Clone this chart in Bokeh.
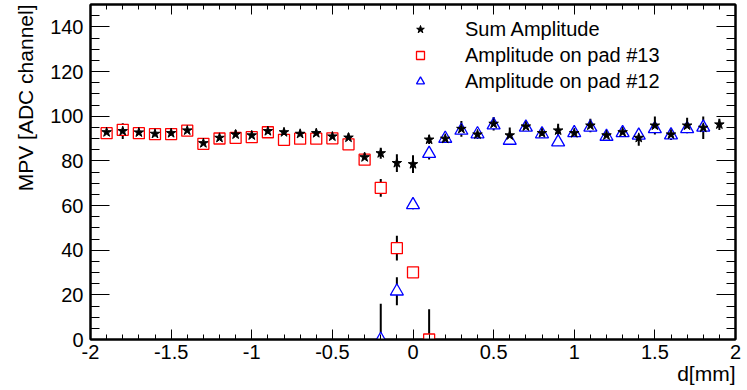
from bokeh.plotting import figure
from bokeh.models import (ColumnDataSource, LinearAxis, Range1d, SingleIntervalTicker,
                          Legend, LegendItem, Title, CustomJSTickFormatter)
from bokeh.embed import file_html
from bokeh.resources import INLINE

FONT = "Liberation Sans"

# ---- data ----
sum_x = [-1.9, -1.8, -1.7, -1.6, -1.5, -1.4, -1.3, -1.2, -1.1, -1.0,
         -0.9, -0.8, -0.7, -0.6, -0.5, -0.4, -0.3, -0.2, -0.1, 0.0,
         0.1, 0.2, 0.3, 0.4, 0.5, 0.6, 0.7, 0.8, 0.9, 1.0,
         1.1, 1.2, 1.3, 1.4, 1.5, 1.6, 1.7, 1.8, 1.9]
sum_y = [92.8, 93.3, 92.7, 92.1, 92.4, 93.6, 87.9, 90.3, 91.8, 91.4,
         93.3, 92.8, 92.1, 92.4, 90.9, 90.4, 81.6, 83.4, 79.0, 78.5,
         89.5, 89.9, 94.3, 91.8, 96.6, 91.4, 95.4, 92.4, 93.6, 92.4,
         95.8, 91.4, 92.8, 90.3, 95.8, 91.8, 95.8, 94.8, 96.3]
sum_err = [1.5, 3.5, 2.0, 1.5, 1.5, 1.5, 2.0, 1.5, 2.0, 1.5,
           1.5, 1.5, 1.5, 1.5, 1.5, 2.0, 2.0, 2.5, 4.0, 4.0,
           2.0, 1.5, 3.5, 2.0, 3.0, 3.5, 2.0, 1.5, 3.0, 1.5,
           3.0, 2.0, 1.5, 3.5, 4.0, 2.5, 3.5, 5.0, 2.5]

pad13_x = [-1.9, -1.8, -1.7, -1.6, -1.5, -1.4, -1.3, -1.2, -1.1, -1.0,
           -0.9, -0.8, -0.7, -0.6, -0.5, -0.4, -0.3, -0.2, -0.1, 0.0, 0.1]
pad13_y = [92.4, 93.9, 92.4, 92.0, 92.0, 93.5, 87.6, 90.0, 90.3, 90.6,
           92.8, 89.4, 89.9, 89.9, 90.1, 87.4, 80.5, 67.9, 40.9, 30.1, 0.0]
pad13_err = [1.5, 1.5, 1.5, 1.5, 1.5, 1.5, 1.5, 1.5, 1.5, 1.5,
             1.5, 1.5, 1.5, 1.5, 1.5, 1.5, 1.5, 4.0, 5.5, 2.0, 13.5]

pad12_x = [-0.2, -0.1, 0.0, 0.1, 0.2, 0.3, 0.4, 0.5, 0.6, 0.7,
           0.8, 0.9, 1.0, 1.1, 1.2, 1.3, 1.4, 1.5, 1.6, 1.7, 1.8]
pad12_y = [0.0, 21.6, 60.3, 83.2, 90.0, 93.6, 92.0, 96.0, 89.1, 95.0,
           92.0, 88.4, 92.5, 95.0, 90.9, 92.5, 91.4, 94.3, 91.5, 94.3, 95.0]
pad12_err = [16.0, 6.3, 2.0, 2.6, 1.5, 1.5, 1.5, 1.5, 1.5, 1.5,
             1.5, 1.5, 1.5, 1.5, 1.5, 1.5, 1.5, 1.5, 1.5, 1.5, 1.5]

labels = ["Sum Amplitude", "Amplitude on pad #13", "Amplitude on pad #12"]
x_title = "d[mm]"
y_title = "MPV [ADC channel]"


def src(x, y, e):
    return ColumnDataSource(dict(x=x, y=y,
                                 lo=[a - b for a, b in zip(y, e)],
                                 hi=[a + b for a, b in zip(y, e)]))


s_sum = src(sum_x, sum_y, sum_err)
s_13 = src(pad13_x, pad13_y, pad13_err)
s_12 = src(pad12_x, pad12_y, pad12_err)

p = figure(width=747, height=390, output_backend="svg", toolbar_location=None,
           x_range=Range1d(-2, 2), y_range=Range1d(0, 150),
           x_axis_type=None, y_axis_type=None,
           min_border_left=90, min_border_right=12, min_border_top=4,
           min_border_bottom=51)
p.xgrid.visible = False
p.ygrid.visible = False
p.outline_line_color = "black"
p.outline_line_width = 2
p.background_fill_color = "white"
p.border_fill_color = "white"

fmt = CustomJSTickFormatter(code="return String(Math.round(tick*10)/10);")
blank = CustomJSTickFormatter(code="return '';")


def make_axis(kind, labels_on):
    if kind == "x":
        t = SingleIntervalTicker(interval=0.5, num_minor_ticks=5)
        ax = LinearAxis(ticker=t, formatter=fmt if labels_on else blank)
        ax.major_tick_in = 10
        ax.minor_tick_in = 5
    else:
        t = SingleIntervalTicker(interval=20, num_minor_ticks=4)
        ax = LinearAxis(ticker=t) if labels_on else LinearAxis(ticker=t, formatter=blank)
        ax.major_tick_in = 19
        ax.minor_tick_in = 9
    ax.major_tick_out = 0
    ax.minor_tick_out = 0
    ax.axis_line_width = 2
    ax.axis_line_color = "black"
    ax.major_tick_line_color = "black"
    ax.minor_tick_line_color = "black"
    ax.major_tick_line_width = 1
    ax.minor_tick_line_width = 1
    ax.major_label_text_font = FONT
    ax.major_label_text_color = "black"
    ax.major_label_text_font_size = "20px"
    ax.major_label_standoff = (5 if kind == "x" else 7) if labels_on else 0
    return ax


p.add_layout(make_axis("x", True), "below")
p.add_layout(make_axis("y", True), "left")
p.add_layout(make_axis("x", False), "above")
p.add_layout(make_axis("y", False), "right")

# axis titles (ROOT style: at the far ends of the axes)
p.add_layout(Title(text=y_title, align="right", text_font=FONT,
                   text_font_size="21px", text_font_style="normal",
                   text_color="black", standoff=21), "left")
p.add_layout(Title(text=x_title, align="right", text_font=FONT,
                   text_font_size="21px", text_font_style="normal",
                   text_color="black", standoff=-3), "below")

# error bars
for s in (s_13, s_12, s_sum):
    p.segment(x0="x", y0="lo", x1="x", y1="hi", source=s,
              line_color="black", line_width=2)

r13 = p.scatter("x", "y", source=s_13, marker="square", size=11,
                line_color="#ff0000", line_width=1.3, fill_color="white")
r12 = p.scatter("x", "y", source=s_12, marker="triangle", size=13,
                line_color="#0000ff", line_width=1.3, fill_color="white")
rs = p.scatter("x", "y", source=s_sum, marker="star", size=10,
               line_color="black", fill_color="black")

leg = Legend(items=[LegendItem(label=labels[0], renderers=[rs]),
                    LegendItem(label=labels[1], renderers=[r13]),
                    LegendItem(label=labels[2], renderers=[r12])],
             location=(320, 245), border_line_alpha=0, background_fill_alpha=0,
             padding=0, margin=0, spacing=0, glyph_width=20, glyph_height=26,
             label_height=26, label_standoff=35, label_text_font=FONT,
             label_text_color="black", label_text_font_size="20px")
p.add_layout(leg)

open("out.html", "w").write(file_html(p, INLINE))
